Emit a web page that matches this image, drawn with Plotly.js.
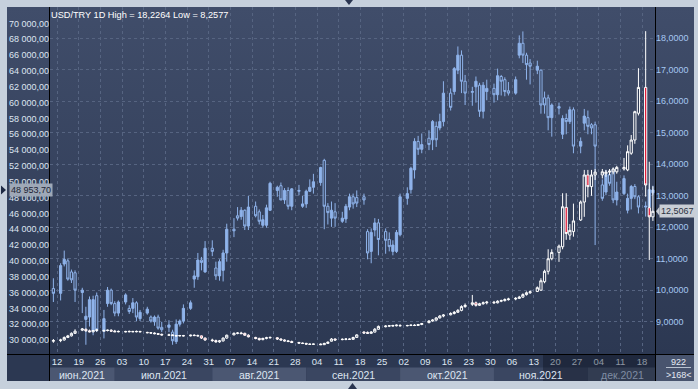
<!DOCTYPE html>
<html><head><meta charset="utf-8">
<script src="https://cdn.plot.ly/plotly-3.0.1.min.js"></script>
<style>html,body{margin:0;padding:0;background:#c6d0dc;}#chart{width:698px;height:389px;}</style>
</head><body><div id="chart"></div>
<script>
const dates = [
'2021-06-11',
'2021-06-14','2021-06-15','2021-06-16','2021-06-17','2021-06-18',
'2021-06-21','2021-06-22','2021-06-23','2021-06-24','2021-06-25',
'2021-06-28','2021-06-29','2021-06-30','2021-07-01','2021-07-02',
'2021-07-05','2021-07-06','2021-07-07','2021-07-08','2021-07-09',
'2021-07-12','2021-07-13','2021-07-14','2021-07-15','2021-07-16',
'2021-07-19','2021-07-20','2021-07-21','2021-07-22','2021-07-23',
'2021-07-26','2021-07-27','2021-07-28','2021-07-29','2021-07-30',
'2021-08-02','2021-08-03','2021-08-04','2021-08-05','2021-08-06',
'2021-08-09','2021-08-10','2021-08-11','2021-08-12','2021-08-13',
'2021-08-16','2021-08-17','2021-08-18','2021-08-19','2021-08-20',
'2021-08-23','2021-08-24','2021-08-25','2021-08-26','2021-08-27',
'2021-08-30','2021-08-31','2021-09-01','2021-09-02','2021-09-03',
'2021-09-06','2021-09-07','2021-09-08','2021-09-09','2021-09-10',
'2021-09-13','2021-09-14','2021-09-15','2021-09-16','2021-09-17',
'2021-09-20','2021-09-21','2021-09-22','2021-09-23','2021-09-24',
'2021-09-27','2021-09-28','2021-09-29','2021-09-30','2021-10-01',
'2021-10-04','2021-10-05','2021-10-06','2021-10-07','2021-10-08',
'2021-10-11','2021-10-12','2021-10-13','2021-10-14','2021-10-15',
'2021-10-18','2021-10-19','2021-10-20','2021-10-21','2021-10-22',
'2021-10-25','2021-10-26','2021-10-27','2021-10-28','2021-10-29',
'2021-11-01','2021-11-02','2021-11-03','2021-11-04','2021-11-05',
'2021-11-08','2021-11-09','2021-11-10','2021-11-11','2021-11-12',
'2021-11-15','2021-11-16','2021-11-17','2021-11-18','2021-11-19',
'2021-11-22','2021-11-23','2021-11-24','2021-11-25','2021-11-26',
'2021-11-29','2021-11-30','2021-12-01','2021-12-02','2021-12-03',
'2021-12-06','2021-12-07','2021-12-08','2021-12-09','2021-12-10',
'2021-12-13','2021-12-14','2021-12-15','2021-12-16','2021-12-17',
'2021-12-20','2021-12-21','2021-12-22'];

const btcOpen = [
36500,
35900,39600,40000,38600,38500,
36000,32600,32900,31100,35600,
31100,34600,36300,34600,33400,
34800,34000,34000,34700,32700,
33400,32900,32300,32900,31600,
31600,31000,29800,32000,32400,
34000,37700,38000,40100,38600,
41600,39100,38100,38800,41000,
44000,45700,45600,46400,44400,
46900,46200,44500,44500,46400,
48900,49500,47700,48900,46900,
48800,46900,47200,48800,49300,
49900,52700,46900,45400,46200,
45000,45300,46800,48100,48000,
48100,43700,41200,43900,44800,
43700,42700,41200,41200,43300,
47900,49000,51500,55100,54100,
55500,55300,57000,56800,57600,
61200,61400,64100,66000,62700,
61300,62000,62200,58900,61400,
61800,61000,63300,62900,61500,
61200,66000,67500,66000,65000,
64100,64100,60600,60600,58100,
59500,56000,58000,57600,59100,
54500,57400,58100,57200,57200,
49600,48700,50900,51500,47700,
48500,46400,47900,49400,48100,
46800,46800,48600];
const btcHigh = [
37800,
39700,41300,40300,38900,38800,
36600,34200,35500,35600,36000,
33800,36700,36500,34900,35000,
35900,34400,35300,34900,33800,
34200,33100,33100,33200,32300,
32500,31300,32600,32600,34500,
35000,38800,41000,40500,42500,
42600,39900,40200,41400,44700,
45400,46800,46800,46500,48200,
47500,46500,45800,47100,50000,
49500,49900,49200,49300,49200,
49600,48200,49000,50300,51000,
51900,52900,47300,47500,47300,
46200,47200,48500,48500,48900,
48500,44000,44100,45400,45300,
44100,43600,42600,43900,48500,
49300,51900,55500,55800,56100,
56500,57800,57600,58600,62700,
61800,64500,67100,66600,63500,
62000,63300,62500,62600,62900,
62400,64300,63500,63200,62600,
63300,68500,69000,66300,65500,
65300,64200,61400,61000,59900,
60000,58400,58600,59500,59400,
55600,59200,59000,57400,57600,
50300,51500,51300,51700,50000,
50800,48500,49600,49700,48300,
47500,49800,49500];
const btcLow = [
34800,
35000,39300,37500,37200,34800,
33400,29400,31700,30600,31000,
30200,34200,34400,33000,33000,
34500,33300,33400,32400,32400,
33200,32200,31800,31300,31000,
31000,29400,29500,31700,32100,
33800,36600,37600,38800,38500,
40600,37600,37500,37400,39900,
43000,45100,45200,43900,43900,
45500,44600,44200,44200,46300,
48100,47700,47200,46500,46400,
48300,46700,46700,48700,48500,
49500,44000,44600,44300,44300,
44800,44800,46400,46600,46800,
47100,40200,39700,43100,40700,
40900,41200,40700,41000,43100,
47100,48500,50400,53400,53600,
54000,54000,54400,56500,57000,
59000,61000,63600,61200,59700,
59600,60000,58200,58000,60300,
60000,60300,60900,60800,60900,
61000,65600,65000,62900,62300,
63600,58600,58600,56500,55700,
58500,55400,56000,57300,53600,
53600,56500,56000,56000,42000,
47600,48300,49500,47300,47000,
48300,46000,46500,47800,46000,
45600,46500,48300];
const btcClose = [
35900,
39400,40200,37700,37600,36300,
36300,33000,35100,35100,31300,
32700,36300,34600,33400,34800,
35700,33600,34700,32900,33500,
33900,32400,32900,31500,31300,
31900,29900,32000,32400,34000,
34700,38100,40100,39800,41600,
41200,38100,39900,41000,44000,
43800,45400,46400,44400,46800,
45700,45000,45200,46700,49800,
49300,47700,48900,46900,49100,
48900,47200,48800,49300,50000,
51800,46900,46100,46400,45400,
45400,46900,48100,47200,47300,
47700,41000,43600,44800,42700,
42600,41800,42000,43600,48100,
48500,51700,55100,54100,54700,
54700,57600,55300,57600,61200,
59400,64300,66000,62700,61200,
61400,62700,58900,62200,61800,
61000,63400,62700,61400,61200,
62900,67500,66000,64800,64600,
64600,59700,59700,58100,59700,
59300,58000,57600,59100,54500,
55100,58300,57000,56800,54500,
47900,50900,49800,47700,48700,
50400,47900,49400,48100,46800,
46900,49000,48953.70];

const tryOpen = [
8.38,
8.40,8.42,8.50,8.55,8.63,
8.73,8.76,8.71,8.68,8.72,
8.70,8.72,8.73,8.70,8.68,
8.69,8.68,8.69,8.68,8.69,
8.66,8.65,8.64,8.62,8.60,
8.57,8.58,8.56,8.55,8.56,
8.55,8.57,8.56,8.55,8.48,
8.42,8.40,8.36,8.39,8.48,
8.58,8.63,8.64,8.63,8.57,
8.50,8.47,8.43,8.47,8.49,
8.49,8.45,8.42,8.39,8.37,
8.34,8.32,8.31,8.29,8.28,
8.29,8.27,8.31,8.38,8.45,
8.43,8.44,8.45,8.44,8.50,
8.67,8.66,8.63,8.67,8.76,
8.84,8.86,8.86,8.87,8.88,
8.87,8.88,8.89,8.88,8.91,
8.97,9.02,9.05,9.12,9.18,
9.22,9.26,9.30,9.36,9.48,
9.55,9.60,9.52,9.57,9.60,
9.62,9.60,9.65,9.67,9.70,
9.72,9.74,9.78,9.86,9.92,
9.96,10.00,10.27,10.60,11.00,
11.20,11.38,12.63,11.75,11.86,
12.23,12.80,13.66,13.29,13.66,
13.66,13.70,13.75,13.76,13.76,
13.85,13.82,14.35,14.77,15.62,
16.44,12.62,12.33];
const tryHigh = [
8.45,
8.46,8.53,8.58,8.66,8.76,
8.80,8.78,8.75,8.74,8.77,
8.75,8.75,8.76,8.74,8.72,
8.71,8.72,8.71,8.72,8.71,
8.68,8.67,8.66,8.64,8.62,
8.62,8.60,8.58,8.58,8.58,
8.59,8.60,8.59,8.56,8.50,
8.46,8.43,8.42,8.50,8.59,
8.66,8.67,8.68,8.65,8.60,
8.52,8.49,8.49,8.52,8.53,
8.51,8.47,8.44,8.42,8.40,
8.36,8.34,8.33,8.31,8.30,
8.31,8.33,8.37,8.48,8.47,
8.47,8.47,8.47,8.52,8.60,
8.70,8.69,8.70,8.80,8.88,
8.89,8.89,8.90,8.91,8.92,
8.90,8.91,8.92,8.93,8.96,
9.05,9.08,9.14,9.21,9.24,
9.30,9.34,9.40,9.52,9.58,
9.85,9.64,9.60,9.64,9.66,
9.66,9.68,9.70,9.74,9.76,
9.78,9.82,9.90,9.96,9.99,
10.12,10.38,10.65,11.30,11.30,
11.45,13.08,13.08,12.10,12.75,
12.85,13.82,13.82,13.82,13.85,
13.85,13.82,13.85,13.90,13.95,
14.20,14.60,14.93,15.70,17.05,
18.2264,14.08,13.30];
const tryLow = [
8.33,
8.35,8.40,8.48,8.53,8.61,
8.70,8.68,8.66,8.66,8.68,
8.68,8.69,8.68,8.67,8.66,
8.66,8.66,8.67,8.66,8.66,
8.63,8.62,8.60,8.58,8.56,
8.55,8.54,8.53,8.53,8.53,
8.53,8.54,8.53,8.45,8.39,
8.36,8.33,8.33,8.37,8.46,
8.57,8.60,8.61,8.55,8.50,
8.44,8.40,8.41,8.44,8.46,
8.42,8.40,8.37,8.35,8.32,
8.30,8.29,8.27,8.26,8.26,
8.2577,8.26,8.30,8.37,8.39,
8.41,8.41,8.42,8.43,8.49,
8.62,8.61,8.62,8.66,8.75,
8.82,8.83,8.84,8.85,8.85,
8.85,8.86,8.86,8.87,8.89,
8.95,9.00,9.03,9.10,9.14,
9.20,9.23,9.28,9.33,9.44,
9.50,9.48,9.50,9.54,9.55,
9.57,9.58,9.62,9.64,9.67,
9.68,9.72,9.76,9.83,9.88,
9.94,9.98,10.22,10.50,10.95,
10.90,11.30,11.60,11.60,11.70,
12.20,12.33,12.95,13.00,13.50,
13.55,13.60,13.65,13.68,13.70,
13.80,13.78,14.30,14.65,15.55,
12.97,10.96,12.20];
const tryClose = [
8.40,
8.42,8.50,8.55,8.63,8.70,
8.77,8.71,8.68,8.72,8.74,
8.72,8.73,8.70,8.68,8.69,
8.68,8.69,8.68,8.69,8.68,
8.65,8.64,8.62,8.60,8.58,
8.58,8.56,8.55,8.56,8.55,
8.57,8.56,8.55,8.48,8.42,
8.40,8.36,8.39,8.48,8.57,
8.63,8.64,8.62,8.57,8.52,
8.47,8.43,8.47,8.49,8.50,
8.45,8.42,8.39,8.37,8.34,
8.32,8.31,8.29,8.28,8.29,
8.27,8.31,8.35,8.45,8.42,
8.44,8.45,8.44,8.50,8.58,
8.64,8.63,8.67,8.76,8.85,
8.86,8.87,8.88,8.89,8.87,
8.88,8.89,8.88,8.91,8.94,
9.02,9.05,9.12,9.18,9.21,
9.26,9.30,9.36,9.48,9.52,
9.60,9.52,9.57,9.60,9.62,
9.60,9.65,9.67,9.70,9.72,
9.74,9.78,9.86,9.92,9.95,
10.08,10.30,10.60,11.00,11.20,
11.40,12.65,11.80,11.90,12.20,
12.80,13.66,13.29,13.66,13.75,
13.76,13.75,13.78,13.85,13.90,
13.90,14.40,14.77,15.67,16.44,
13.34,12.33,12.5067];

const leftTicks = [30000,32000,34000,36000,38000,40000,42000,44000,46000,48000,50000,52000,54000,56000,58000,60000,62000,64000,66000,68000,70000];
const rightTicks = [9,10,11,12,13,14,15,16,17,18];
const monthNames = ['июн.2021','июл.2021','авг.2021','сен.2021','окт.2021','ноя.2021','дек.2021'];
const monthStarts = ['2021-06-10 01:30','2021-07-01','2021-08-01','2021-09-01','2021-10-01','2021-11-01','2021-12-01'];
const monthEnds   = ['2021-07-01','2021-08-01','2021-09-01','2021-10-01','2021-11-01','2021-12-01','2021-12-22 14:00'];
const monthMids   = ['2021-06-21','2021-07-16 12:00','2021-08-17','2021-09-16','2021-10-16','2021-11-16','2021-12-11 13:00'];
const titleText = 'USD/TRY 1D High = 18,2264 Low = 8,2577';
const infoTop = '922';
const infoBottom = '&gt;168&lt;';
const lastBtc = btcClose[btcClose.length-1];
const lastTry = tryClose[tryClose.length-1];

// plot-area geometry helpers (pixel -> paper)
const PL=50, PR=655, PT=7, PB=354;
const px = x => (x-PL)/(PR-PL);
const py = y => (PB-y)/(PB-PT);

function fmtLeft(v){
  const s = v.toFixed(2).split('.');
  return s[0].replace(/\B(?=(\d{3})+(?!\d))/g,' ')+','+s[1];
}
function fmtRight(v){ return v.toFixed(4).replace('.',','); }

const FONT = 'Liberation Sans, Arial, sans-serif';

const grad = "<svg xmlns='http://www.w3.org/2000/svg' width='10' height='100' preserveAspectRatio='none'>"+
 "<defs><linearGradient id='g' x1='0' y1='0' x2='0' y2='1'>"+
 "<stop offset='0' stop-color='#404d6a'/><stop offset='0.93' stop-color='#2c3852'/><stop offset='1' stop-color='#2c3852'/></linearGradient></defs>"+
 "<rect width='10' height='100' fill='url(#g)'/></svg>";
const gradURI = 'data:image/svg+xml;charset=utf-8,'+encodeURIComponent(grad);

const btcTrace = {
  type:'candlestick', x:dates, open:btcOpen, high:btcHigh, low:btcLow, close:btcClose,
  yaxis:'y', xaxis:'x', whiskerwidth:0,
  increasing:{line:{color:'#8fb3ea',width:1}, fillcolor:'#8fb3ea'},
  decreasing:{line:{color:'#8fb3ea',width:1}, fillcolor:'#36435f'},
  hoverinfo:'skip', showlegend:false
};
const tryTrace = {
  type:'candlestick', x:dates, open:tryOpen, high:tryHigh, low:tryLow, close:tryClose,
  yaxis:'y2', xaxis:'x', whiskerwidth:0,
  increasing:{line:{color:'#ffffff',width:1}, fillcolor:'#2e3a55'},
  decreasing:{line:{color:'#ffffff',width:1}, fillcolor:'#e0102e'},
  hoverinfo:'skip', showlegend:false
};

const shapes = [];
// month bands
monthStarts.forEach((s,i)=>{
  shapes.push({type:'rect', xref:'x', yref:'paper', x0:s, x1:monthEnds[i], y0:py(381), y1:py(367.5),
    fillcolor: i%2===0 ? '#4b5772' : '#3a4661', line:{width:0}, layer:'below'});
});
// bottom-right info box
shapes.push({type:'rect', xref:'paper', yref:'paper', x0:px(656), x1:px(694), y0:py(381), y1:py(355), fillcolor:'#48546e', line:{width:0}, layer:'below'});
shapes.push({type:'line', xref:'paper', yref:'paper', x0:px(666), x1:px(691), y0:py(367.5), y1:py(367.5), line:{color:'#b8c2d0',width:1}, layer:'below'});
// dimmed overlay on right part of time axis
shapes.push({type:'rect', xref:'paper', yref:'paper', x0:px(543), x1:px(655), y0:py(381), y1:py(355), fillcolor:'rgba(10,16,30,0.38)', line:{width:0}, layer:'above'});
// frame lines
shapes.push({type:'line', xref:'paper', yref:'paper', x0:px(49.5), x1:px(49.5), y0:py(381), y1:py(7), line:{color:'#000',width:1}, layer:'above'});
shapes.push({type:'line', xref:'paper', yref:'paper', x0:px(655.5), x1:px(655.5), y0:py(381), y1:py(7), line:{color:'#000',width:1}, layer:'above'});
shapes.push({type:'line', xref:'paper', yref:'paper', x0:px(7), x1:px(694), y0:py(354.5), y1:py(354.5), line:{color:'#000',width:1}, layer:'above'});
// small markers on the outer frame
shapes.push({type:'path', xref:'paper', yref:'paper', path:`M ${px(345)},${py(0)} L ${px(353)},${py(0)} L ${px(349)},${py(5)} Z`, fillcolor:'#2a3550', line:{width:0}});
shapes.push({type:'path', xref:'paper', yref:'paper', path:`M ${px(348)},${py(389)} L ${px(357)},${py(389)} L ${px(352.5)},${py(383)} Z`, fillcolor:'#2a3550', line:{width:0}});
// left pointer to the current BTC value
shapes.push({type:'path', xref:'paper', yref:'y', path:`M ${px(1)},${lastBtc+560} L ${px(6)},${lastBtc} L ${px(1)},${lastBtc-560} Z`, fillcolor:'#1e2a44', line:{width:0}, layer:'above'});
// right value tag notch
shapes.push({type:'path', xref:'paper', yref:'y2', path:`M ${px(656)},${lastTry} L ${px(659.5)},${lastTry+0.14} L ${px(659.5)},${lastTry-0.14} Z`, fillcolor:'#c9ced6', line:{width:0}, layer:'above'});

const annotations = [];
monthNames.forEach((m,i)=>{
  annotations.push({xref:'x', yref:'paper', x:monthMids[i], y:py(374.5), text:m, showarrow:false,
    font:{family:FONT,size:10.5,color: i===6 ? '#7f8ca3' : '#dde5f1'}, xanchor:'center', yanchor:'middle'});
});
annotations.push({xref:'paper', yref:'y', x:px(9), y:lastBtc, text:fmtLeft(lastBtc), showarrow:false,
  xanchor:'left', yanchor:'middle', bgcolor:'#9ea8b7', borderpad:1, font:{family:FONT,size:9,color:'#1c2435'}});
annotations.push({xref:'paper', yref:'y2', x:px(659), y:lastTry, text:fmtRight(lastTry), showarrow:false,
  xanchor:'left', yanchor:'middle', bgcolor:'#c9ced6', borderpad:1, font:{family:FONT,size:9,color:'#2b3242'}});
annotations.push({xref:'paper', yref:'paper', x:px(678.5), y:py(361.5), text:infoTop, showarrow:false,
  xanchor:'center', yanchor:'middle', font:{family:FONT,size:9,color:'#e4eaf3'}});
annotations.push({xref:'paper', yref:'paper', x:px(678.5), y:py(374.5), text:infoBottom, showarrow:false,
  xanchor:'center', yanchor:'middle', font:{family:FONT,size:9,color:'#e4eaf3'}});

const layout = {
  width:698, height:389,
  margin:{l:PL, r:698-PR, t:PT, b:389-PB, pad:0},
  paper_bgcolor:'#c6d0dc', plot_bgcolor:'rgba(0,0,0,0)',
  separators:', ',
  font:{family:FONT, size:9, color:'#dde5f1'},
  hovermode:false, showlegend:false, boxgap:0.12,
  title:{text:titleText, xref:'paper', x:px(51), xanchor:'left', yref:'container', y:1-14.5/389, yanchor:'middle',
    font:{family:FONT,size:9.2,color:'#ffffff'}, pad:{t:0,b:0,l:0,r:0}},
  xaxis:{type:'date', range:['2021-06-10 01:30','2021-12-22 14:00'],
    rangebreaks:[{pattern:'day of week', bounds:[0,1]}],
    rangeslider:{visible:false},
    tick0:'2021-06-12', dtick:7*86400000, tickformat:'%d', ticks:'',
    showgrid:true, gridcolor:'#566481', griddash:'3px,3px', gridwidth:1,
    zeroline:false, showline:false, fixedrange:true,
    tickfont:{family:FONT,size:9.5,color:'#dde5f1'}},
  yaxis:{range:[28231,72085], side:'left', tickvals:leftTicks, tickformat:',.2f',
    showgrid:false, zeroline:false, showline:false, ticks:'', fixedrange:true,
    tickfont:{family:FONT,size:9,color:'#dde5f1'}},
  yaxis2:{range:[7.974,18.994], overlaying:'y', side:'right', tickvals:rightTicks, tickformat:'.4f',
    showgrid:true, gridcolor:'#566481', griddash:'3px,3px', gridwidth:1,
    zeroline:false, showline:false, ticks:'', fixedrange:true,
    tickfont:{family:FONT,size:9,color:'#a6c8f2'}},
  images:[{source:gradURI, xref:'paper', yref:'paper', x:px(7), y:py(7), sizex:px(694)-px(7), sizey:py(7)-py(381),
    xanchor:'left', yanchor:'top', sizing:'stretch', layer:'below'}],
  shapes:shapes, annotations:annotations
};

Plotly.newPlot('chart',[btcTrace,tryTrace],layout,{displayModeBar:false,staticPlot:true});
</script></body></html>
